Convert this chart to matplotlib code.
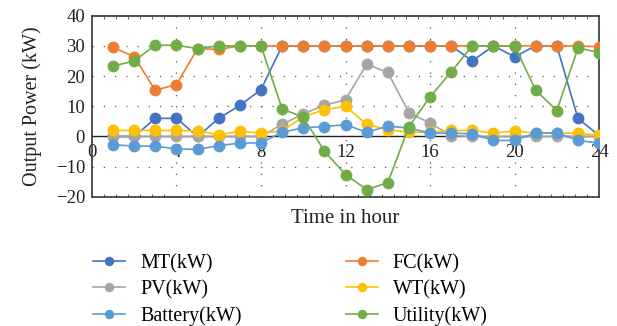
import matplotlib
matplotlib.use("Agg")
import matplotlib.pyplot as plt
from matplotlib.ticker import MultipleLocator

hours = list(range(1, 25))
mt = [0, 0, 6.0, 6.0, 0, 6.0, 10.3, 15.5, 30, 30, 30, 30, 30, 30, 30, 30, 30, 25.0, 30, 26.4, 30, 30, 6.0, 0.3]
fc = [29.5, 26.4, 15.3, 17.2, 29.1, 28.8, 30, 30, 30, 30, 30, 30, 30, 30, 30, 30, 30, 30, 30, 30, 30, 30, 30, 29.7]
pv = [0, 0, 0, 0, 0, 0, 0, 0, 4.0, 7.5, 10.3, 12.2, 23.9, 21.2, 7.9, 4.4, 0.3, 0, 0, 0, 0, 0, 0, 0]
wt = [2.0, 2.0, 2.0, 2.0, 1.8, 0.6, 1.7, 1.1, 1.8, 6.5, 8.9, 10.0, 4.0, 2.3, 1.4, 1.4, 2.0, 2.0, 1.2, 1.8, 1.1, 1.1, 1.1, 0.4]
battery = [-2.7, -3.2, -3.2, -4.1, -4.3, -3.0, -2.2, -2.1, 1.4, 2.9, 3.3, 3.9, 1.4, 3.4, 2.8, 1.1, 1.1, 0.9, -1.3, -1.3, 1.2, 1.2, -1.3, -2.2]
utility = [23.3, 25.0, 30.2, 30.2, 29.1, 30, 30, 30, 9.1, 6.4, -4.9, -12.6, -17.6, -15.3, 3.3, 13.1, 21.4, 30, 30, 30, 15.3, 8.6, 29.3, 27.8]

series = [
    ("MT(kW)", mt, "#4472C4"),
    ("FC(kW)", fc, "#ED7D31"),
    ("PV(kW)", pv, "#A5A5A5"),
    ("WT(kW)", wt, "#FFC000"),
    ("Battery(kW)", battery, "#5B9BD5"),
    ("Utility(kW)", utility, "#70AD47"),
]
xticks = [0, 4, 8, 12, 16, 20, 24]
yticks = [-20, -10, 0, 10, 20, 30, 40]

plt.rcParams['font.family'] = ['Liberation Serif', 'DejaVu Serif']
fig = plt.figure(figsize=(6.17, 3.26), dpi=100)
ax = fig.add_axes([0.149, 0.396, 0.822, 0.556])

handles = {}
for name, vals, col in series:
    h, = ax.plot(hours, vals, color=col, lw=1.2, marker='o', ms=8.5,
                 markeredgewidth=0, label=name, zorder=3)
    handles[name] = h

ax.set_xlim(0, 24)
ax.set_ylim(-20, 40)
ax.set_yticks(yticks)
ax.set_xticks(xticks)
ax.tick_params(axis='x', which='major', labelbottom=False, length=0)
ax.xaxis.set_minor_locator(MultipleLocator(4/7))
ax.tick_params(axis='x', which='minor', direction='in', length=2.5, top=True, bottom=True, width=0.6, color='#444444')
ax.tick_params(axis='y', which='major', length=0, labelsize=13.5, pad=5, colors='#222222')
for t in xticks:
    ax.text(t, -5.3, str(t), transform=ax.transData, ha='center', va='center',
            fontsize=13.5, color='#222222', zorder=2)
ax.axhline(0, color='#222222', lw=1.0, zorder=2)
for y in yticks[1:-1]:
    if y != 0:
        ax.axhline(y, color='#555555', lw=0.9, ls=(0, (1, 8)), zorder=1)
for x in xticks[1:-1]:
    ax.axvline(x, color='#555555', lw=0.9, ls=(0, (1, 8)), zorder=1)
for s in ax.spines.values():
    s.set_linewidth(1.2)
    s.set_color('#333333')

ax.set_ylabel("Output Power (kW)", fontsize=14.5, color='#222222', labelpad=10)
ax.set_xlabel("Time in hour", fontsize=15, color='#222222', labelpad=5)

order = ["MT(kW)", "PV(kW)", "Battery(kW)", "FC(kW)", "WT(kW)", "Utility(kW)"]
fig.legend([handles[n] for n in order], order, ncol=2, loc='upper left',
           bbox_to_anchor=(93/617, 1 - 254/326), frameon=False, fontsize=14.5,
           borderpad=0, borderaxespad=0,
           handlelength=1.6, columnspacing=5.15, labelspacing=0.34,
           handletextpad=0.75, markerscale=0.8)

fig.savefig("out.png", dpi=100)
